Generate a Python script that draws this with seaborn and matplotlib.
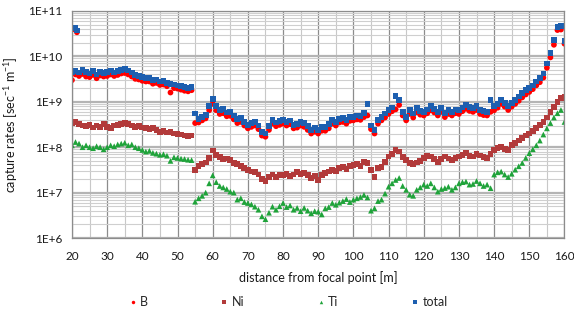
import numpy as np
import pandas as pd
import seaborn as sns
import matplotlib.pyplot as plt
from matplotlib.ticker import LogLocator, MultipleLocator, FuncFormatter, NullFormatter

sns.set_style("white")
plt.rcParams['font.family'] = ['Lato', 'DejaVu Sans']
plt.rcParams['mathtext.fontset'] = 'custom'
plt.rcParams['mathtext.rm'] = 'Lato'
plt.rcParams['mathtext.it'] = 'Lato:italic'

# distance from focal point [m]
dist = list(range(20, 161))

# capture rates, one value per metre (20 .. 160)
total = [
    4.6e9, 4.8e9, 4.4e9, 5.0e9, 4.5e9, 4.2e9, 4.7e9, 4.0e9, 4.6e9, 4.3e9,
    4.5e9, 4.9e9, 4.4e9, 4.8e9, 5.1e9, 5.2e9, 4.9e9, 4.4e9, 3.9e9, 3.7e9,
    3.5e9, 3.3e9, 3.4e9, 3.0e9, 3.1e9, 2.8e9, 2.9e9, 2.6e9, 2.5e9, 2.4e9,
    2.3e9, 2.2e9, 2.1e9, 2.0e9, 2.1e9,
    5.5e8, 4.2e8, 4.7e8, 5.2e8, 8.0e8, 1.15e9, 8.0e8, 6.6e8, 7.0e8, 5.8e8,
    6.0e8, 5.0e8, 4.2e8, 4.4e8, 3.6e8, 3.1e8, 3.4e8, 3.6e8, 3.0e8, 2.2e8,
    2.0e8, 2.9e8, 4.0e8, 3.5e8, 3.8e8, 4.0e8, 3.6e8, 3.9e8, 3.1e8, 3.3e8,
    3.6e8, 3.4e8, 2.9e8, 2.4e8, 2.7e8, 2.4e8, 2.8e8, 2.8e8, 3.2e8, 4.0e8,
    3.6e8, 4.2e8, 4.4e8, 4.0e8, 4.6e8, 4.7e8, 5.0e8, 4.8e8, 5.6e8, 9.0e8,
    3.0e8, 2.4e8, 4.0e8, 4.7e8, 5.5e8, 6.6e8, 7.5e8, 1.35e9, 1.1e9, 6.0e8,
    4.7e8, 6.6e8, 5.5e8, 7.2e8, 6.3e8, 6.0e8, 6.8e8, 8.0e8, 7.0e8, 6.0e8,
    7.2e8, 5.6e8, 6.5e8, 6.0e8, 6.8e8, 6.6e8, 7.5e8, 8.5e8, 7.6e8, 7.2e8,
    8.0e8, 6.6e8, 6.2e8, 6.0e8, 1.1e9, 8.0e8, 9.0e8, 1.1e9, 9.5e8, 8.0e8,
    9.5e8, 1.1e9, 1.3e9, 1.55e9, 1.8e9, 2.0e9, 2.3e9, 2.8e9, 3.3e9, 4.2e9,
    7.0e9, 1.2e10, 2.3e10, 4.5e10, 4.6e10, 2.2e10,
]
B = [
    3.0e9, 4.0e9, 3.7e9, 4.1e9, 3.6e9, 3.5e9, 3.9e9, 3.3e9, 3.8e9, 3.6e9,
    3.7e9, 4.0e9, 3.7e9, 3.9e9, 4.2e9, 4.3e9, 4.0e9, 3.6e9, 3.2e9, 3.1e9,
    2.9e9, 2.8e9, 2.8e9, 2.5e9, 2.6e9, 2.35e9, 2.4e9, 2.2e9, 1.6e9, 2.0e9,
    1.95e9, 1.85e9, 1.75e9, 1.7e9, 1.8e9,
    3.4e8, 3.5e8, 3.9e8, 4.3e8, 6.5e8, 9.0e8, 6.5e8, 5.4e8, 5.6e8, 4.8e8,
    4.9e8, 4.1e8, 3.4e8, 3.6e8, 3.0e8, 2.6e8, 2.8e8, 3.0e8, 2.5e8, 1.8e8,
    1.7e8, 2.4e8, 3.3e8, 2.9e8, 3.1e8, 3.3e8, 3.0e8, 3.2e8, 2.6e8, 2.7e8,
    3.0e8, 2.8e8, 2.4e8, 2.0e8, 2.2e8, 2.0e8, 2.3e8, 2.3e8, 2.6e8, 3.3e8,
    3.0e8, 3.5e8, 3.6e8, 3.3e8, 3.8e8, 3.9e8, 4.1e8, 4.0e8, 4.6e8, 5.0e8,
    2.5e8, 2.0e8, 3.3e8, 3.9e8, 4.5e8, 5.4e8, 6.2e8, 6.8e8, 8.5e8, 5.0e8,
    3.9e8, 5.4e8, 4.5e8, 5.9e8, 5.2e8, 5.0e8, 5.6e8, 6.5e8, 5.8e8, 5.0e8,
    6.0e8, 4.6e8, 5.4e8, 5.0e8, 5.6e8, 5.4e8, 6.2e8, 7.0e8, 6.3e8, 6.0e8,
    6.6e8, 5.4e8, 5.1e8, 5.0e8, 6.0e8, 6.5e8, 7.4e8, 9.0e8, 7.8e8, 6.6e8,
    7.8e8, 9.0e8, 1.05e9, 1.25e9, 1.45e9, 1.65e9, 1.9e9, 2.3e9, 2.7e9, 3.4e9,
    5.6e9, 9.5e9, 1.8e10, 3.8e10, 3.9e10, 1.9e10,
]
Ni = [
    3.4e8, 3.6e8, 3.2e8, 3.0e8, 2.9e8, 3.1e8, 2.7e8, 3.0e8, 2.8e8, 3.2e8,
    2.8e8, 2.6e8, 3.0e8, 3.1e8, 3.3e8, 3.4e8, 3.2e8, 3.0e8, 2.8e8, 2.9e8,
    2.7e8, 2.6e8, 2.5e8, 2.6e8, 2.4e8, 2.2e8, 2.3e8, 2.1e8, 2.2e8, 2.0e8,
    1.95e8, 1.9e8, 1.8e8, 1.75e8, 1.8e8,
    3.2e7, 3.8e7, 4.2e7, 4.6e7, 5.8e7, 8.5e7, 6.8e7, 6.0e7, 5.5e7, 5.6e7,
    5.2e7, 4.5e7, 4.3e7, 3.8e7, 3.5e7, 3.2e7, 2.9e7, 2.8e7, 2.5e7, 2.0e7,
    1.8e7, 2.2e7, 2.5e7, 2.2e7, 2.4e7, 2.45e7, 2.6e7, 2.3e7, 2.5e7, 2.8e7,
    2.6e7, 2.7e7, 2.4e7, 2.1e7, 2.3e7, 1.9e7, 2.4e7, 2.7e7, 2.9e7, 3.2e7,
    3.0e7, 3.5e7, 3.7e7, 3.3e7, 3.8e7, 4.0e7, 4.2e7, 3.9e7, 4.8e7, 4.5e7,
    3.2e7, 2.2e7, 3.5e7, 3.7e7, 4.8e7, 6.2e7, 7.0e7, 8.7e7, 8.0e7, 6.0e7,
    5.2e7, 4.5e7, 4.3e7, 4.6e7, 5.0e7, 5.8e7, 6.3e7, 6.2e7, 5.4e7, 4.8e7,
    5.5e7, 6.2e7, 5.6e7, 5.2e7, 5.8e7, 6.2e7, 6.8e7, 7.4e7, 6.5e7, 6.2e7,
    7.0e7, 6.6e7, 6.0e7, 5.8e7, 7.0e7, 8.7e7, 9.5e7, 1.0e8, 9.2e7, 8.7e7,
    1.1e8, 1.25e8, 1.4e8, 1.6e8, 1.8e8, 2.0e8, 2.3e8, 2.6e8, 3.1e8, 3.6e8,
    4.5e8, 6.0e8, 7.8e8, 1.0e9, 1.2e9, 1.3e9,
]
Ti = [
    1.1e8, 1.3e8, 1.2e8, 1.0e8, 1.1e8, 1.0e8, 9.5e7, 1.05e8, 1.0e8, 9.0e7,
    1.0e8, 1.1e8, 1.05e8, 1.15e8, 1.2e8, 1.25e8, 1.1e8, 1.15e8, 1.0e8, 9.5e7,
    8.7e7, 8.0e7, 8.3e7, 7.5e7, 7.2e7, 6.8e7, 7.0e7, 6.5e7, 5.0e7, 6.0e7,
    5.8e7, 5.6e7, 5.5e7, 5.3e7, 5.2e7,
    6.3e6, 7.5e6, 8.5e6, 1.0e7, 1.6e7, 2.4e7, 1.7e7, 1.4e7, 1.3e7, 1.2e7,
    1.05e7, 1.0e7, 7.0e6, 7.5e6, 6.2e6, 5.9e6, 5.5e6, 4.9e6, 4.2e6, 3.0e6,
    2.6e6, 3.6e6, 4.9e6, 4.2e6, 5.0e6, 5.9e6, 4.8e6, 5.2e6, 4.2e6, 4.6e6,
    3.9e6, 4.6e6, 4.0e6, 3.5e6, 3.9e6, 3.8e6, 3.3e6, 4.5e6, 4.8e6, 5.9e6,
    5.4e6, 6.0e6, 6.5e6, 7.2e6, 6.2e6, 7.0e6, 7.5e6, 8.0e6, 8.9e6, 7.8e6,
    4.0e6, 4.5e6, 6.5e6, 7.0e6, 9.5e6, 1.35e7, 1.6e7, 1.9e7, 2.1e7, 1.4e7,
    1.15e7, 9.0e6, 8.5e6, 1.15e7, 1.3e7, 1.5e7, 1.4e7, 1.6e7, 1.3e7, 1.05e7,
    1.2e7, 1.26e7, 1.35e7, 1.15e7, 1.3e7, 1.6e7, 1.7e7, 1.75e7, 1.5e7, 1.55e7,
    1.8e7, 1.6e7, 1.4e7, 1.5e7, 1.25e7, 2.5e7, 2.8e7, 2.9e7, 2.5e7, 2.2e7,
    2.6e7, 3.2e7, 3.8e7, 4.5e7, 5.8e7, 7.4e7, 9.0e7, 1.1e8, 1.4e8, 1.9e8,
    2.6e8, 3.4e8, 4.5e8, 5.6e8, 6.6e8, 3.6e8,
]

# the two isolated points near the start
spike_dist = [20.8, 21.4]
spike_total = [4.2e10, 3.7e10]
spike_B = [3.9e10, 3.4e10]

series = ['B', 'Ni', 'Ti', 'total']
colors = {'B': '#ff0000', 'Ni': '#b23a3a', 'Ti': '#1fa33a', 'total': '#1d5fb0'}
markers = {'B': 'o', 'Ni': 's', 'Ti': '^', 'total': 's'}

df = pd.concat([
    pd.DataFrame({'dist': dist + spike_dist, 'rate': B + spike_B, 'element': 'B'}),
    pd.DataFrame({'dist': dist, 'rate': Ni, 'element': 'Ni'}),
    pd.DataFrame({'dist': dist, 'rate': Ti, 'element': 'Ti'}),
    pd.DataFrame({'dist': dist + spike_dist, 'rate': total + spike_total, 'element': 'total'}),
], ignore_index=True)

fig = plt.figure(figsize=(5.74, 3.14), dpi=100)
ax = fig.add_axes([0.1254, 0.242, 0.858, 0.723])

sns.scatterplot(data=df, x='dist', y='rate', hue='element', style='element',
                hue_order=series, style_order=series, palette=colors,
                markers=markers, s=17, linewidth=0, ax=ax)

ax.set_yscale('log')
ax.set_ylim(1e6, 1e11)
ax.set_xlim(20, 160)

ax.xaxis.set_major_locator(MultipleLocator(10))
ax.xaxis.set_minor_locator(MultipleLocator(5))
ax.yaxis.set_major_locator(LogLocator(base=10, numticks=10))
ax.yaxis.set_minor_locator(LogLocator(base=10, subs=range(2, 10), numticks=50))
ax.yaxis.set_minor_formatter(NullFormatter())
ax.yaxis.set_major_formatter(FuncFormatter(lambda v, _: f"1E+{int(round(np.log10(v)))}"))

ax.grid(which='major', axis='x', color='#8c8c8c', lw=0.9)
ax.grid(which='minor', axis='x', color='#c8c8c8', lw=0.8)
ax.grid(which='major', axis='y', color='#b4b4b4', lw=1.6)
ax.grid(which='minor', axis='y', color='#cfcfcf', lw=0.8)
ax.set_axisbelow(True)

for side in ['left', 'bottom', 'top', 'right']:
    ax.spines[side].set_color('#8c8c8c')
    ax.spines[side].set_linewidth(0.9)

ax.tick_params(axis='both', which='major', direction='out', length=4, width=0.8,
               color='#8c8c8c', labelsize=8.5, labelcolor='#1a1a1a', pad=3)
ax.tick_params(axis='x', which='major', pad=5)
ax.tick_params(axis='both', which='minor', length=0)

ax.set_xlabel('distance from focal point [m]', fontsize=9, color='#1a1a1a', labelpad=7)
ax.set_ylabel(r'capture rates [sec$^{-1}$ m$^{-1}$]', fontsize=9, color='#1a1a1a', labelpad=6)

handles, labels = ax.get_legend_handles_labels()
ax.get_legend().remove()
fig.legend(handles, labels, loc='center', bbox_to_anchor=(0.5, 0.037), ncol=4,
           frameon=False, fontsize=9, markerscale=0.6, handletextpad=0.1,
           columnspacing=5.6, handlelength=1.0)

fig.savefig('out.png', dpi=100)
